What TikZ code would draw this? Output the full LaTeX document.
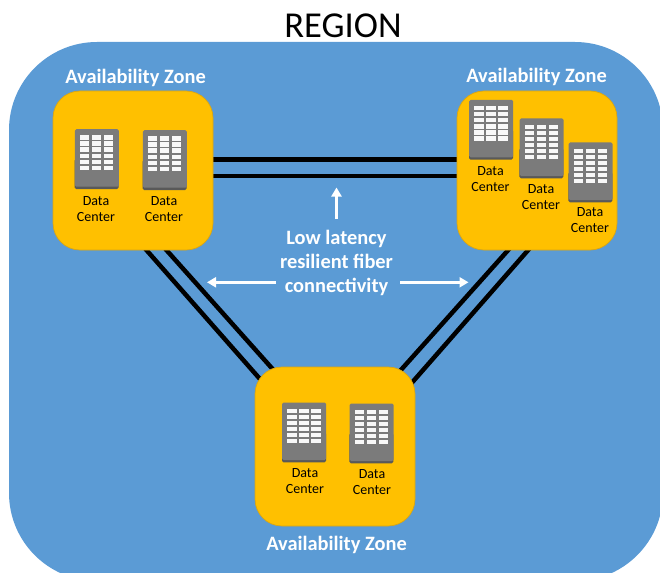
\documentclass[tikz,border=0pt]{standalone}
\usepackage{fontspec}
\setmainfont{Carlito}
\usetikzlibrary{calc,arrows.meta}
\pgfdeclarelayer{back}
\pgfdeclarelayer{conn}
\pgfsetlayers{back,conn,main}
\definecolor{regionblue}{HTML}{5B9BD5}
\definecolor{zonegold}{HTML}{FFC000}
\definecolor{zoneedge}{HTML}{D9A514}
\definecolor{rackgrey}{HTML}{7B7B7B}
\definecolor{rackdark}{HTML}{595959}
\tikzset{
  zonebox/.style={draw=zoneedge,line width=0.7pt,fill=zonegold,rounded corners=27pt,
    minimum width=160pt,minimum height=159pt,inner sep=0pt},
  zonelabel/.style={text=white,font=\fontsize{20.4}{24}\selectfont\bfseries,inner sep=0pt},
  dclabel/.style={text=black,align=center,font=\fontsize{14}{16}\selectfont,inner sep=0pt},
  fiber/.style={draw=black,line width=4.5pt,shorten <=-6pt,shorten >=-6pt},
  whitearrow/.style={draw=white,line width=3pt,-{Triangle[length=9pt,width=10pt]}},
  rackbody/.style={fill=rackgrey,rounded corners=1.5pt},
  rackbase/.style={fill=rackdark,rounded corners=1.5pt},
  rackcell/.style={fill=white,opacity=0.95}
}
% #1 name, #2 left, #3 top of a rack icon
\newcommand{\rackicon}[3]{%
  \fill[rackbase] (#2,#3+30) rectangle (#2+44,#3+60);
  \node[rackbody,minimum width=44pt,minimum height=57.5pt,inner sep=0pt,anchor=north west] (#1) at (#2,#3) {};
  \foreach \cx in {0,1,2}{\foreach \cy in {0,1,2,3,4,5}{
    \fill[rackcell] (#2+5.2+12*\cx,#3+6.3+6.1*\cy) rectangle +(9.4,4.3);
  }}%
}
\begin{document}
\begin{tikzpicture}[x=1pt,y=-1pt]
\useasboundingbox (0,0) rectangle (660,572);
\begin{pgfonlayer}{back}
  \begin{scope}
    \clip (0,0) rectangle (660,572);
    \fill[regionblue,rounded corners=88pt] (9,42) rectangle (663,581);
  \end{scope}
\end{pgfonlayer}
\node[font=\fontsize{36.5}{40}\selectfont,text=black,inner sep=0pt] (title) at (343,26) {REGION};

\node[zonebox] (A) at (133,170.5) {};
\node[zonebox] (B) at (537,170.5) {};
\node[zonebox] (C) at (335,446.5) {};

\node[zonelabel] (Alab) at (135.5,77.5) {Availability Zone};
\node[zonelabel] (Blab) at (536.5,76.5) {Availability Zone};
\node[zonelabel] (Clab) at (336.5,544.5) {Availability Zone};

\begin{pgfonlayer}{conn}
  \draw[fiber] ($(A.east)+(0,-11)$) -- ($(B.west)+(0,-11)$);
  \draw[fiber] ($(A.east)+(0,5.5)$) -- ($(B.west)+(0,5.5)$);
  \draw[fiber] ($(A.south)+(14.3,0.7)$) -- ($(C.north)+(-76.5,10.7)$);
  \draw[fiber] ($(A.south)+(34.3,0.7)$) -- ($(C.north)+(-64.5,0)$);
  \draw[fiber] ($(B.south)+(-29.7,0.7)$) -- ($(C.north)+(68,1)$);
  \draw[fiber] ($(B.south)+(-9.7,0.7)$) -- ($(C.north)+(79,13.7)$);
\end{pgfonlayer}

\rackicon{ra1}{74.7}{129}
\rackicon{ra2}{142.7}{130}
\rackicon{rb1}{469}{99.7}
\rackicon{rb2}{519.3}{118.3}
\rackicon{rb3}{568.3}{142.3}
\rackicon{rc1}{282}{402.3}
\rackicon{rc2}{349.3}{403.3}

\node[dclabel] (da1) at (96,209) {Data\\Center};
\node[dclabel] (da2) at (164,209) {Data\\Center};
\node[dclabel] (db1) at (490.5,179.5) {Data\\Center};
\node[dclabel] (db2) at (541,197) {Data\\Center};
\node[dclabel] (db3) at (590,220.5) {Data\\Center};
\node[dclabel] (dc1) at (305,481.5) {Data\\Center};
\node[dclabel] (dc2) at (372,482.5) {Data\\Center};

\node[text=white,align=center,inner sep=0pt,font=\fontsize{20.4}{24}\selectfont\bfseries] (lbl) at (336.5,263) {Low latency\\resilient fiber\\connectivity};
\coordinate (upend) at (336.5,187.5);
\coordinate (leftend) at (207,282.3);
\coordinate (rightend) at (468.5,282.3);
\draw[whitearrow] ($(lbl.center)+(0,-44)$) -- (upend);
\draw[whitearrow] ($(lbl.center)+(-60.5,19.3)$) -- (leftend);
\draw[whitearrow] ($(lbl.center)+(63.5,19.3)$) -- (rightend);
\end{tikzpicture}
\end{document}
